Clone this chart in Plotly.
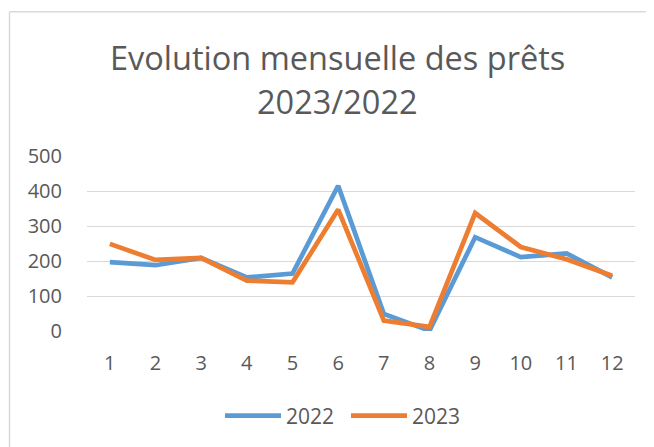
import plotly.graph_objects as go

months = [1, 2, 3, 4, 5, 6, 7, 8, 9, 10, 11, 12]
tick_labels = ["1", "2", "3", "4", "5", "6", "7", "8", "9", "10", "11", "12"]
values_2022 = [197, 188, 209, 153, 164, 415, 49, 1, 268, 211, 222, 153]
values_2023 = [249, 203, 209, 144, 139, 347, 30, 12, 337, 240, 205, 158]
title_lines = ["Evolution mensuelle des prêts", "2023/2022"]

OFF = 8  # page body margin
W, H = 654 - OFF, 447 - OFF
ML, MR, MT, MB = 87 - OFF, 19, 156 - OFF, 115
pw, ph = W - ML - MR, H - MT - MB

def px(x):
    return (x - OFF - ML) / pw

def py(y):
    return (H - MB - (y - OFF)) / ph

text_color = "#595959"
font_family = "Open Sans, Noto Sans, sans-serif"

fig = go.Figure()
fig.add_trace(go.Scatter(x=months, y=values_2022, mode="lines", name="2022",
                         line=dict(color="#5B9BD5", width=4.7)))
fig.add_trace(go.Scatter(x=months, y=values_2023, mode="lines", name="2023",
                         line=dict(color="#ED7D31", width=4.7)))

fig.update_layout(
    width=W, height=H,
    margin=dict(l=ML, r=MR, t=MT, b=MB),
    paper_bgcolor="white", plot_bgcolor="white",
    font=dict(family=font_family, color=text_color, size=20),
    xaxis=dict(range=[0.5, 12.5], tickmode="array", tickvals=months,
               ticktext=tick_labels, showgrid=False, zeroline=False,
               showline=False, ticks="outside", ticklen=14,
               tickcolor="rgba(0,0,0,0)", tickfont=dict(size=20)),
    yaxis=dict(range=[0, 500], tickmode="array",
               tickvals=[0, 100, 200, 300, 400, 500],
               showgrid=True, gridcolor="#D9D9D9", gridwidth=1.3,
               zeroline=False, showline=False, ticks="outside", ticklen=20,
               tickcolor="rgba(0,0,0,0)", tickfont=dict(size=20)),
    legend=dict(orientation="h", x=px(220), xanchor="left",
                y=py(416), yanchor="middle", itemwidth=56,
                entrywidth=55, entrywidthmode="pixels",
                font=dict(size=21), bgcolor="rgba(0,0,0,0)"),
    showlegend=True,
)

for line_text, yc in zip(title_lines, [57, 101]):
    fig.add_annotation(text=line_text, xref="paper", yref="paper",
                       x=px(337), y=py(yc), xanchor="center", yanchor="middle",
                       showarrow=False,
                       font=dict(size=32.5, color=text_color, family=font_family))

border = "#D9D9D9"
fig.add_shape(type="line", xref="paper", yref="paper",
              x0=px(9.5), y0=py(11), x1=px(700), y1=py(11),
              line=dict(color=border, width=1.5))
fig.add_shape(type="line", xref="paper", yref="paper",
              x0=px(9.5), y0=py(11), x1=px(9.5), y1=py(500),
              line=dict(color=border, width=1.5))

fig.write_html("out.html")
